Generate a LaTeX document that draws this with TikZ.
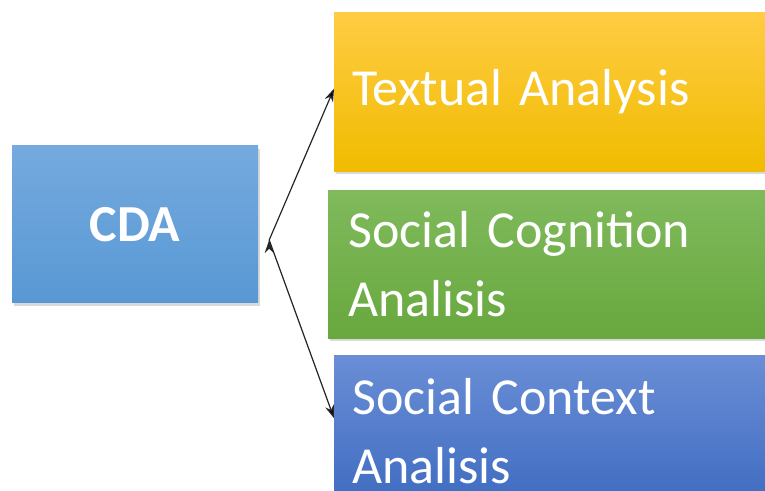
\documentclass[tikz,border=0pt]{standalone}
\usepackage{fontspec}
\setmainfont{Carlito}
\usepackage{tikz}
\usetikzlibrary{arrows.meta,positioning,shadows,calc}

\definecolor{cdatop}{HTML}{75AADE}
\definecolor{cdabot}{HTML}{5898D4}
\definecolor{yeltop}{HTML}{FFCC44}
\definecolor{yelbot}{HTML}{F0BC00}
\definecolor{grntop}{HTML}{80BA5C}
\definecolor{grnbot}{HTML}{68A83E}
\definecolor{blutop}{HTML}{6A8ED6}
\definecolor{blubot}{HTML}{3E6BC0}

\begin{document}
\begin{tikzpicture}[x=1pt,y=1pt,
    box/.style={rectangle, text=white, align=left, anchor=north west,
      inner xsep=18pt, inner ysep=0pt, text width=400pt,
      font=\fontsize{52}{69}\selectfont,
      drop shadow={opacity=.3, shadow xshift=1.5pt, shadow yshift=-3pt}},
    link/.style={draw=black!85, line width=1.2pt,
      -{Stealth[length=13pt,width=9pt]}}]
      \useasboundingbox (0,0) rectangle (765,490);
      \clip (0,0) rectangle (765,490);

      \node[rectangle, minimum width=246pt, minimum height=157pt,
        top color=cdatop, bottom color=cdabot, text=white,
        font=\fontsize{52}{60}\selectfont\bfseries,
        drop shadow={opacity=.3, shadow xshift=1.5pt, shadow yshift=-3pt}]
        (cda) at (135,265.5) {CDA} ;

      % the three branches on the right
      \node[box, minimum height=159pt, top color=yeltop, bottom color=yelbot]
        (textual) at (334,478) {\raisebox{-3pt}{Textual Analysis}} ;
      \node[box, inner xsep=20pt, minimum height=148pt,
        top color=grntop, bottom color=grnbot]
        (cognition) at (328,300) {Social Cognition\\Analisis} ;
      \node[box, minimum height=152pt, top color=blutop, bottom color=blubot]
        (context) at (334,135) {Social Context\\Analisis} ;

      \coordinate (fork) at ([xshift=11pt,yshift=-15.5pt]cda.east) ;

      \path[link]
      (fork) edge ([yshift=3pt]textual.west)
      (fork) edge ([yshift=13pt]context.west) ;

    \end{tikzpicture}
\end{document}
